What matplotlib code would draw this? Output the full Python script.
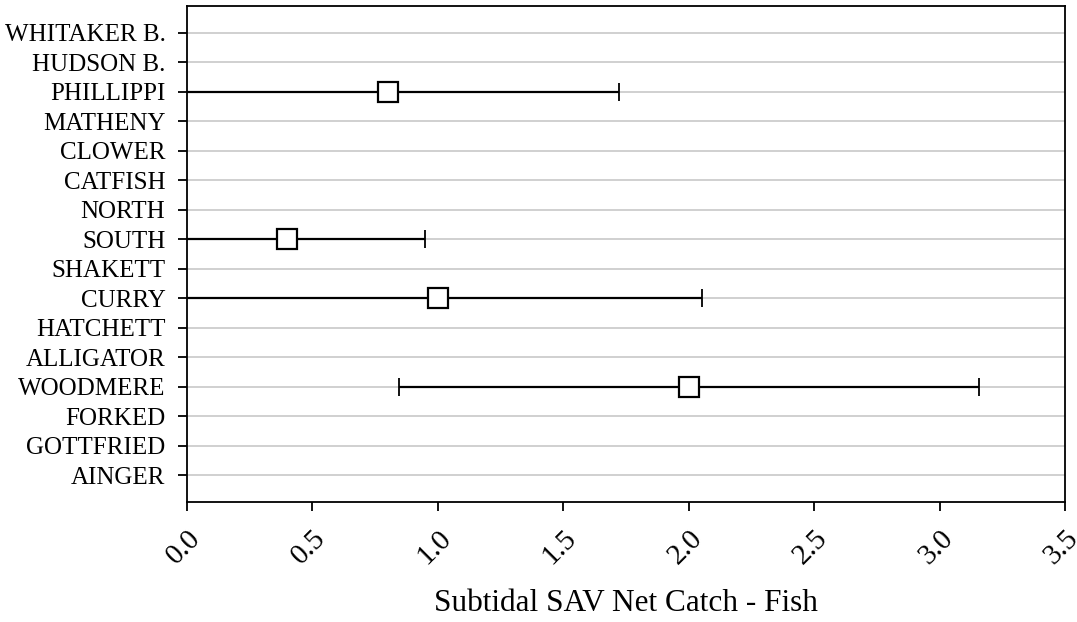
import numpy as np
import matplotlib
matplotlib.use('Agg')
import matplotlib.pyplot as plt

# Sites, top to bottom as shown in the chart
sites = ['WHITAKER B.', 'HUDSON B.', 'PHILLIPPI', 'MATHENY', 'CLOWER', 'CATFISH',
         'NORTH', 'SOUTH', 'SHAKETT', 'CURRY', 'HATCHETT', 'ALLIGATOR',
         'WOODMERE', 'FORKED', 'GOTTFRIED', 'AINGER']

# Mean net catch and error half-width (only sites with data)
data_sites = ['PHILLIPPI', 'SOUTH', 'CURRY', 'WOODMERE']
means = [0.80, 0.40, 1.00, 2.00]
errors = [0.92, 0.55, 1.05, 1.155]

xticks = [0.0, 0.5, 1.0, 1.5, 2.0, 2.5, 3.0, 3.5]

plt.rcParams['font.family'] = ['Liberation Serif', 'DejaVu Serif']

fig = plt.figure(figsize=(10.77, 6.22), dpi=100)
ax = fig.add_axes([0.1736, 0.193, 0.8157, 0.7974])

# y position: top site has the highest value
ypos = {s: len(sites) - 1 - i for i, s in enumerate(sites)}
y = [ypos[s] for s in data_sites]

# horizontal grid lines
for s in sites:
    ax.axhline(ypos[s], color='#c8c8c8', lw=1.2, zorder=0)

ax.errorbar(means, y, xerr=errors, fmt='none', ecolor='black', elinewidth=1.6,
            capsize=6.8, capthick=1.3, zorder=2)
ax.plot(means, y, 's', ms=15, mfc='white', mec='black', mew=1.6, zorder=3)

ax.set_xlim(0, 3.5)
ax.set_ylim(-0.9, len(sites) - 1 + 0.9)
ax.set_yticks([ypos[s] for s in sites])
ax.set_yticklabels(sites, fontsize=18)
ax.set_xticks(xticks)
ax.set_xticklabels([f'{t:.1f}' for t in xticks], fontsize=21, rotation=45,
                   ha='right', va='top', rotation_mode='anchor')
ax.tick_params(axis='both', direction='out', length=6.5, width=1.3, color='black')
ax.tick_params(axis='x', pad=10)
ax.tick_params(axis='y', pad=9)
for sp in ax.spines.values():
    sp.set_linewidth(1.3)

ax.set_xlabel('Subtidal SAV Net Catch - Fish', fontsize=22.5, labelpad=14)

fig.savefig('out.png', dpi=100)
